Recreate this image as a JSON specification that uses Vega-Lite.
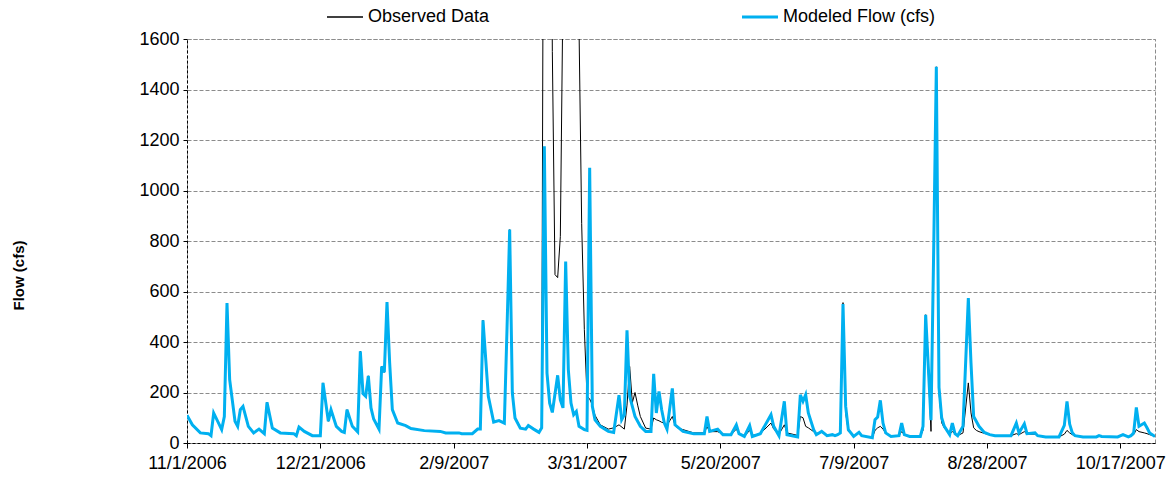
{
  "$schema": "https://vega.github.io/schema/vega-lite/v6.json",
  "width": 968,
  "height": 404,
  "autosize": "none",
  "padding": {"left": 187, "top": 39, "right": 19, "bottom": 47},
  "background": "white",
  "config": {
    "font": "Liberation Sans",
    "view": {"stroke": "#8c8c8c", "strokeDash": [4, 2], "strokeWidth": 1},
    "axis": {
      "labelFont": "Liberation Sans",
      "labelFontSize": 18,
      "labelColor": "#000000",
      "tickColor": "#000000",
      "domainColor": "#000000",
      "domainDash": [3, 2],
      "gridColor": "#8c8c8c",
      "gridDash": [4, 2],
      "gridWidth": 1
    }
  },
  "data": {
    "values": [
      {"date":"2006-11-01","obs":110,"mod":110},
      {"date":"2006-11-03","obs":72,"mod":72},
      {"date":"2006-11-06","obs":40,"mod":40},
      {"date":"2006-11-09","obs":37,"mod":37},
      {"date":"2006-11-10","obs":29,"mod":29},
      {"date":"2006-11-11","obs":119,"mod":119},
      {"date":"2006-11-14","obs":53,"mod":53},
      {"date":"2006-11-15","obs":105,"mod":105},
      {"date":"2006-11-16","obs":554,"mod":554},
      {"date":"2006-11-17","obs":251,"mod":251},
      {"date":"2006-11-19","obs":86,"mod":86},
      {"date":"2006-11-20","obs":66,"mod":66},
      {"date":"2006-11-21","obs":132,"mod":132},
      {"date":"2006-11-22","obs":145,"mod":145},
      {"date":"2006-11-24","obs":66,"mod":66},
      {"date":"2006-11-26","obs":40,"mod":40},
      {"date":"2006-11-28","obs":55,"mod":55},
      {"date":"2006-11-30","obs":37,"mod":37},
      {"date":"2006-12-01","obs":161,"mod":161},
      {"date":"2006-12-03","obs":59,"mod":59},
      {"date":"2006-12-06","obs":40,"mod":40},
      {"date":"2006-12-11","obs":37,"mod":37},
      {"date":"2006-12-12","obs":29,"mod":29},
      {"date":"2006-12-13","obs":63,"mod":63},
      {"date":"2006-12-15","obs":46,"mod":46},
      {"date":"2006-12-18","obs":29,"mod":29},
      {"date":"2006-12-21","obs":29,"mod":29},
      {"date":"2006-12-22","obs":238,"mod":238},
      {"date":"2006-12-24","obs":86,"mod":86},
      {"date":"2006-12-25","obs":132,"mod":132},
      {"date":"2006-12-27","obs":66,"mod":66},
      {"date":"2006-12-29","obs":46,"mod":46},
      {"date":"2006-12-30","obs":42,"mod":42},
      {"date":"2006-12-31","obs":132,"mod":132},
      {"date":"2007-01-02","obs":66,"mod":66},
      {"date":"2007-01-04","obs":44,"mod":44},
      {"date":"2007-01-05","obs":363,"mod":363},
      {"date":"2007-01-06","obs":196,"mod":196},
      {"date":"2007-01-07","obs":185,"mod":185},
      {"date":"2007-01-08","obs":266,"mod":266},
      {"date":"2007-01-09","obs":139,"mod":139},
      {"date":"2007-01-10","obs":95,"mod":95},
      {"date":"2007-01-12","obs":55,"mod":55},
      {"date":"2007-01-13","obs":303,"mod":303},
      {"date":"2007-01-14","obs":280,"mod":280},
      {"date":"2007-01-15","obs":558,"mod":558},
      {"date":"2007-01-16","obs":317,"mod":317},
      {"date":"2007-01-17","obs":132,"mod":132},
      {"date":"2007-01-19","obs":79,"mod":79},
      {"date":"2007-01-22","obs":69,"mod":69},
      {"date":"2007-01-24","obs":57,"mod":57},
      {"date":"2007-01-29","obs":49,"mod":49},
      {"date":"2007-02-04","obs":46,"mod":46},
      {"date":"2007-02-06","obs":40,"mod":40},
      {"date":"2007-02-11","obs":40,"mod":40},
      {"date":"2007-02-12","obs":37,"mod":37},
      {"date":"2007-02-16","obs":37,"mod":37},
      {"date":"2007-02-18","obs":55,"mod":55},
      {"date":"2007-02-19","obs":55,"mod":55},
      {"date":"2007-02-20","obs":486,"mod":486},
      {"date":"2007-02-22","obs":185,"mod":185},
      {"date":"2007-02-24","obs":83,"mod":83},
      {"date":"2007-02-26","obs":89,"mod":89},
      {"date":"2007-02-28","obs":79,"mod":79},
      {"date":"2007-03-01","obs":450,"mod":450},
      {"date":"2007-03-02","obs":845,"mod":845},
      {"date":"2007-03-03","obs":198,"mod":198},
      {"date":"2007-03-04","obs":99,"mod":99},
      {"date":"2007-03-06","obs":59,"mod":59},
      {"date":"2007-03-08","obs":55,"mod":55},
      {"date":"2007-03-09","obs":69,"mod":69},
      {"date":"2007-03-11","obs":55,"mod":55},
      {"date":"2007-03-13","obs":42,"mod":42},
      {"date":"2007-03-14","obs":60,"mod":60},
      {"date":"2007-03-15","obs":3500,"mod":1175},
      {"date":"2007-03-16","obs":4000,"mod":277},
      {"date":"2007-03-17","obs":3500,"mod":158},
      {"date":"2007-03-18","obs":1550,"mod":121},
      {"date":"2007-03-19","obs":667,"mod":null},
      {"date":"2007-03-20","obs":655,"mod":268},
      {"date":"2007-03-21","obs":818,"mod":171},
      {"date":"2007-03-22","obs":1800,"mod":139},
      {"date":"2007-03-23","obs":3500,"mod":719},
      {"date":"2007-03-24","obs":4000,"mod":290},
      {"date":"2007-03-25","obs":4000,"mod":158},
      {"date":"2007-03-26","obs":4000,"mod":112},
      {"date":"2007-03-27","obs":3500,"mod":125},
      {"date":"2007-03-28","obs":1650,"mod":66},
      {"date":"2007-03-29","obs":870,"mod":null},
      {"date":"2007-03-30","obs":450,"mod":53},
      {"date":"2007-03-31","obs":185,"mod":50},
      {"date":"2007-04-01","obs":175,"mod":1090},
      {"date":"2007-04-02","obs":150,"mod":145},
      {"date":"2007-04-03","obs":110,"mod":92},
      {"date":"2007-04-05","obs":72,"mod":66},
      {"date":"2007-04-08","obs":55,"mod":46},
      {"date":"2007-04-10","obs":60,"mod":42},
      {"date":"2007-04-12","obs":72,"mod":189},
      {"date":"2007-04-13","obs":null,"mod":92},
      {"date":"2007-04-14","obs":55,"mod":112},
      {"date":"2007-04-15","obs":150,"mod":446},
      {"date":"2007-04-16","obs":303,"mod":185},
      {"date":"2007-04-17","obs":160,"mod":null},
      {"date":"2007-04-18","obs":200,"mod":105},
      {"date":"2007-04-19","obs":150,"mod":null},
      {"date":"2007-04-20","obs":105,"mod":66},
      {"date":"2007-04-22","obs":59,"mod":46},
      {"date":"2007-04-24","obs":55,"mod":46},
      {"date":"2007-04-25","obs":99,"mod":274},
      {"date":"2007-04-26","obs":92,"mod":119},
      {"date":"2007-04-27","obs":88,"mod":204},
      {"date":"2007-04-28","obs":82,"mod":132},
      {"date":"2007-04-29","obs":79,"mod":79},
      {"date":"2007-04-30","obs":70,"mod":55},
      {"date":"2007-05-02","obs":105,"mod":216},
      {"date":"2007-05-03","obs":70,"mod":72},
      {"date":"2007-05-04","obs":59,"mod":null},
      {"date":"2007-05-06","obs":53,"mod":46},
      {"date":"2007-05-10","obs":40,"mod":37},
      {"date":"2007-05-14","obs":40,"mod":37},
      {"date":"2007-05-15","obs":65,"mod":105},
      {"date":"2007-05-16","obs":45,"mod":46},
      {"date":"2007-05-19","obs":45,"mod":55},
      {"date":"2007-05-21","obs":35,"mod":33},
      {"date":"2007-05-24","obs":33,"mod":33},
      {"date":"2007-05-26","obs":55,"mod":72},
      {"date":"2007-05-27","obs":37,"mod":37},
      {"date":"2007-05-29","obs":26,"mod":26},
      {"date":"2007-05-31","obs":50,"mod":69},
      {"date":"2007-06-01","obs":30,"mod":26},
      {"date":"2007-06-04","obs":37,"mod":37},
      {"date":"2007-06-08","obs":79,"mod":112},
      {"date":"2007-06-09","obs":55,"mod":66},
      {"date":"2007-06-11","obs":35,"mod":29},
      {"date":"2007-06-13","obs":72,"mod":165},
      {"date":"2007-06-14","obs":40,"mod":33},
      {"date":"2007-06-18","obs":30,"mod":24},
      {"date":"2007-06-19","obs":105,"mod":191},
      {"date":"2007-06-20","obs":100,"mod":165},
      {"date":"2007-06-21","obs":66,"mod":191},
      {"date":"2007-06-22","obs":60,"mod":119},
      {"date":"2007-06-24","obs":45,"mod":53},
      {"date":"2007-06-25","obs":38,"mod":33},
      {"date":"2007-06-27","obs":42,"mod":46},
      {"date":"2007-06-29","obs":32,"mod":29},
      {"date":"2007-07-01","obs":33,"mod":33},
      {"date":"2007-07-02","obs":29,"mod":29},
      {"date":"2007-07-03","obs":33,"mod":33},
      {"date":"2007-07-04","obs":40,"mod":40},
      {"date":"2007-07-05","obs":556,"mod":550},
      {"date":"2007-07-06","obs":120,"mod":145},
      {"date":"2007-07-07","obs":46,"mod":53},
      {"date":"2007-07-09","obs":26,"mod":26},
      {"date":"2007-07-11","obs":42,"mod":42},
      {"date":"2007-07-12","obs":29,"mod":29},
      {"date":"2007-07-16","obs":21,"mod":21},
      {"date":"2007-07-17","obs":50,"mod":92},
      {"date":"2007-07-18","obs":60,"mod":103},
      {"date":"2007-07-19","obs":66,"mod":169},
      {"date":"2007-07-20","obs":55,"mod":79},
      {"date":"2007-07-21","obs":40,"mod":40},
      {"date":"2007-07-23","obs":26,"mod":26},
      {"date":"2007-07-26","obs":29,"mod":29},
      {"date":"2007-07-27","obs":45,"mod":79},
      {"date":"2007-07-28","obs":33,"mod":33},
      {"date":"2007-07-30","obs":26,"mod":26},
      {"date":"2007-08-03","obs":26,"mod":26},
      {"date":"2007-08-04","obs":50,"mod":66},
      {"date":"2007-08-05","obs":508,"mod":508},
      {"date":"2007-08-07","obs":46,"mod":90},
      {"date":"2007-08-08","obs":760,"mod":760},
      {"date":"2007-08-09","obs":1490,"mod":1490},
      {"date":"2007-08-10","obs":200,"mod":220},
      {"date":"2007-08-11","obs":80,"mod":100},
      {"date":"2007-08-12","obs":60,"mod":66},
      {"date":"2007-08-14","obs":35,"mod":33},
      {"date":"2007-08-15","obs":45,"mod":79},
      {"date":"2007-08-16","obs":37,"mod":37},
      {"date":"2007-08-17","obs":29,"mod":29},
      {"date":"2007-08-19","obs":40,"mod":66},
      {"date":"2007-08-21","obs":238,"mod":574},
      {"date":"2007-08-22","obs":119,"mod":317},
      {"date":"2007-08-23","obs":60,"mod":105},
      {"date":"2007-08-24","obs":50,"mod":null},
      {"date":"2007-08-25","obs":45,"mod":66},
      {"date":"2007-08-27","obs":38,"mod":42},
      {"date":"2007-08-29","obs":33,"mod":33},
      {"date":"2007-08-31","obs":29,"mod":29},
      {"date":"2007-09-06","obs":29,"mod":29},
      {"date":"2007-09-08","obs":37,"mod":79},
      {"date":"2007-09-09","obs":33,"mod":40},
      {"date":"2007-09-11","obs":45,"mod":76},
      {"date":"2007-09-12","obs":35,"mod":37},
      {"date":"2007-09-15","obs":35,"mod":40},
      {"date":"2007-09-16","obs":29,"mod":29},
      {"date":"2007-09-19","obs":24,"mod":24},
      {"date":"2007-09-24","obs":24,"mod":24},
      {"date":"2007-09-26","obs":35,"mod":70},
      {"date":"2007-09-27","obs":50,"mod":165},
      {"date":"2007-09-28","obs":40,"mod":75},
      {"date":"2007-09-29","obs":33,"mod":40},
      {"date":"2007-09-30","obs":29,"mod":29},
      {"date":"2007-10-03","obs":24,"mod":24},
      {"date":"2007-10-08","obs":24,"mod":24},
      {"date":"2007-10-09","obs":29,"mod":29},
      {"date":"2007-10-10","obs":26,"mod":26},
      {"date":"2007-10-16","obs":24,"mod":24},
      {"date":"2007-10-18","obs":33,"mod":33},
      {"date":"2007-10-20","obs":24,"mod":24},
      {"date":"2007-10-21","obs":29,"mod":29},
      {"date":"2007-10-22","obs":33,"mod":40},
      {"date":"2007-10-23","obs":53,"mod":141},
      {"date":"2007-10-24","obs":45,"mod":66},
      {"date":"2007-10-26","obs":40,"mod":79},
      {"date":"2007-10-27","obs":37,"mod":60},
      {"date":"2007-10-28","obs":33,"mod":40},
      {"date":"2007-10-29","obs":30,"mod":33},
      {"date":"2007-10-30","obs":26,"mod":26}
    ]
  },
  "encoding": {
    "x": {
      "field": "date",
      "type": "temporal",
      "scale": {
        "type": "utc",
        "domain": [
          {"year": 2006, "month": 11, "date": 1, "utc": true},
          {"year": 2007, "month": 10, "date": 30, "utc": true}
        ]
      },
      "axis": {
        "title": null,
        "grid": false,
        "format": "%-m/%-d/%Y",
        "values": [
          {"year": 2006, "month": 11, "date": 1, "utc": true},
          {"year": 2006, "month": 12, "date": 21, "utc": true},
          {"year": 2007, "month": 2, "date": 9, "utc": true},
          {"year": 2007, "month": 3, "date": 31, "utc": true},
          {"year": 2007, "month": 5, "date": 20, "utc": true},
          {"year": 2007, "month": 7, "date": 9, "utc": true},
          {"year": 2007, "month": 8, "date": 28, "utc": true},
          {"year": 2007, "month": 10, "date": 17, "utc": true}
        ],
        "tickSize": 5,
        "labelPadding": 6,
        "labelFlush": false,
        "labelOverlap": false
      }
    }
  },
  "layer": [
    {
      "mark": {"type": "line", "strokeWidth": 1, "clip": true, "invalid": "filter"},
      "encoding": {
        "y": {
          "field": "obs",
          "type": "quantitative",
          "scale": {"domain": [0, 1600], "nice": false},
          "axis": {
            "title": "Flow (cfs)",
            "format": "d",
            "values": [0, 200, 400, 600, 800, 1000, 1200, 1400, 1600],
            "grid": true,
            "tickSize": 4,
            "labelPadding": 4,
            "titleFontSize": 15,
            "titleFontWeight": "bold",
            "titleFont": "Liberation Sans",
            "titleColor": "#000000",
            "titleAngle": 270,
            "titleAlign": "center",
            "titleBaseline": "middle",
            "titleX": -169,
            "titleY": 236
          }
        },
        "color": {
          "datum": "Observed Data",
          "scale": {
            "domain": ["Observed Data", "Modeled Flow (cfs)"],
            "range": ["#000000", "#00B0F0"]
          },
          "legend": {
            "title": null,
            "orient": "none",
            "legendX": 149,
            "legendY": -31,
            "direction": "horizontal",
            "columns": 2,
            "columnPadding": 246,
            "padding": 0,
            "symbolType": "stroke",
            "symbolSize": 1296,
            "symbolStrokeWidth": 2,
            "labelFont": "Liberation Sans",
            "labelFontSize": 18,
            "labelColor": "#000000",
            "labelOffset": 14,
            "labelLimit": 400,
            "encode": {
              "symbols": {
                "update": {
                  "strokeWidth": {"signal": "datum.value === 'Observed Data' ? 1.5 : 3"}
                }
              }
            }
          }
        }
      }
    },
    {
      "mark": {"type": "line", "strokeWidth": 3, "clip": true, "invalid": "filter"},
      "encoding": {
        "y": {"field": "mod", "type": "quantitative", "title": "Flow (cfs)"},
        "color": {"datum": "Modeled Flow (cfs)"}
      }
    }
  ]
}
